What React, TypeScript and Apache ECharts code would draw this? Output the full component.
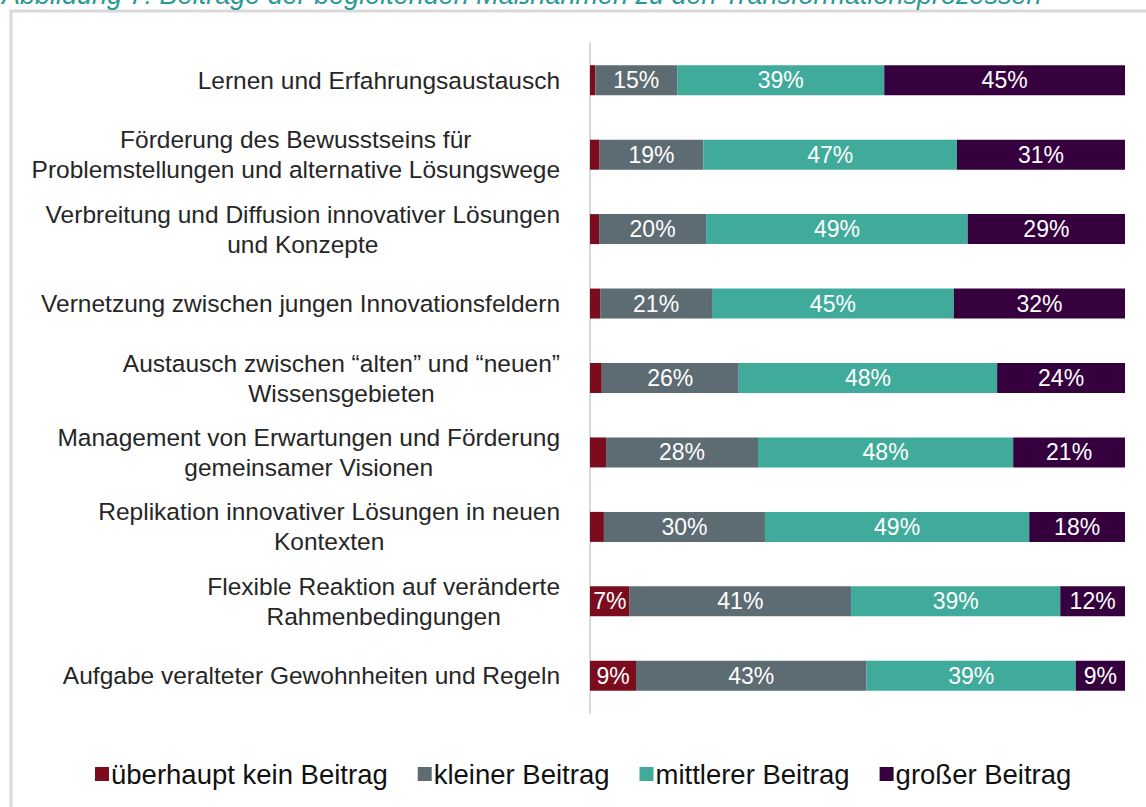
import React, { useEffect, useRef } from "react";
import * as echarts from "echarts";

const categories: string[] = [
  "Lernen und Erfahrungsaustausch",
  "Förderung des Bewusstseins für\nProblemstellungen und alternative Lösungswege",
  "Verbreitung und Diffusion innovativer Lösungen\nund Konzepte",
  "Vernetzung zwischen jungen Innovationsfeldern",
  "Austausch zwischen “alten” und “neuen”\nWissensgebieten",
  "Management von Erwartungen und Förderung\ngemeinsamer Visionen",
  "Replikation innovativer Lösungen in neuen\nKontexten",
  "Flexible Reaktion auf veränderte\nRahmenbedingungen",
  "Aufgabe veralteter Gewohnheiten und Regeln",
];

const seriesNames: string[] = [
  "überhaupt kein Beitrag",
  "kleiner Beitrag",
  "mittlerer Beitrag",
  "großer Beitrag",
];

const keinBeitrag: number[] = [1.0, 1.8, 1.7, 1.9, 2.2, 3.0, 2.6, 7.4, 8.6];
const kleinerBeitrag: number[] = [15.3, 19.4, 20.0, 20.9, 25.6, 28.4, 30.1, 41.4, 43.1];
const mittlererBeitrag: number[] = [38.7, 47.4, 48.9, 45.2, 48.3, 47.7, 49.4, 39.1, 39.1];
const grosserBeitrag: number[] = [45.0, 31.4, 29.4, 32.0, 23.9, 20.9, 17.9, 12.1, 9.2];

const colors: string[] = ["#7a0c1e", "#5d6b73", "#41ab9b", "#35003d"];

const caption = "Abbildung 7: Beiträge der begleitenden Maßnahmen zu den Transformationsprozessen";

export default function App() {
  const ref = useRef<HTMLDivElement>(null);
  useEffect(() => {
    document.body.style.margin = "0";
    if (!ref.current) return;
    const chart = echarts.init(ref.current, null, { renderer: "svg" });
    const font = "Liberation Sans, Arial, sans-serif";
    const dataSets = [keinBeitrag, kleinerBeitrag, mittlererBeitrag, grosserBeitrag];
    chart.setOption({
      animation: false,
      textStyle: { fontFamily: font },
      grid: { left: 590, right: 21, top: 43, bottom: 94, containLabel: false },
      xAxis: {
        type: "value",
        min: 0,
        max: 100,
        show: false,
      },
      yAxis: {
        type: "category",
        inverse: true,
        data: categories,
        axisLine: { show: true, lineStyle: { color: "#d9d9d9", width: 2 } },
        axisTick: { show: false },
        axisLabel: {
          margin: 30,
          align: "right",
          color: "#262626",
          fontSize: 24.5,
          lineHeight: 30,
          fontFamily: font,
          formatter: (v: string) =>
            v
              .split("\n")
              .map((l) => `{c|${l}}`)
              .join("\n"),
          rich: {
            c: { align: "center", fontSize: 24.5, lineHeight: 30, color: "#262626", fontFamily: font },
          },
        },
      },
      legend: {
        data: seriesNames,
        left: 90,
        top: 755,
        itemWidth: 14,
        itemHeight: 14,
        itemGap: 30,
        icon: "rect",
        textStyle: { fontSize: 27.5, color: "#111", fontFamily: font, padding: [0, 0, 0, -3] },
      },
      graphic: [
        {
          type: "rect",
          z: -10,
          shape: { x: 11, y: 11, width: 1300, height: 1000 },
          style: { fill: "none", stroke: "#d9d9d9", lineWidth: 3 },
        },
        {
          type: "text",
          x: 2,
          y: 8,
          style: {
            text: caption,
            fill: "#2b9994",
            font: `italic 27px ${font}`,
            textVerticalAlign: "bottom",
          },
        },
      ],
      series: seriesNames.map((name, i) => ({
        name,
        type: "bar",
        stack: "total",
        barWidth: 30,
        data: dataSets[i],
        itemStyle: { color: colors[i] },
        label: {
          show: true,
          position: "inside",
          color: "#fff",
          fontSize: 23,
          fontFamily: font,
          formatter: (p: any) => (p.value >= 5 ? `${Math.round(p.value)}%` : ""),
        },
      })),
    });
    return () => chart.dispose();
  }, []);
  return (
    <div
      ref={ref}
      style={{ position: "absolute", left: 0, top: 0, width: 1146, height: 807 }}
    />
  );
}
